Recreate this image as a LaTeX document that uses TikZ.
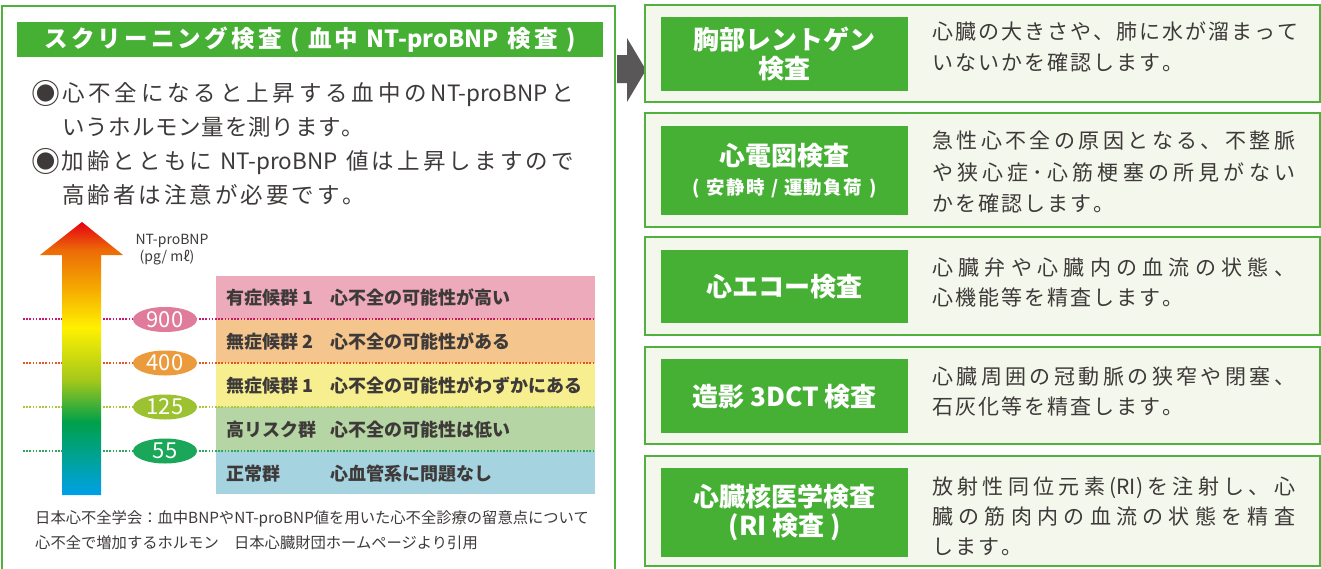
\documentclass[tikz,border=0pt]{standalone}
\usepackage{fontspec}
\setmainfont{Noto Sans CJK JP}
\usetikzlibrary{shapes.geometric}
\definecolor{pgreen}{HTML}{50B23C}
\definecolor{lgreen}{HTML}{46B035}
\definecolor{boxbg}{HTML}{F4F8EC}
\definecolor{txt}{HTML}{3E3A39}
\definecolor{darr}{HTML}{595757}
\definecolor{bpink}{HTML}{EDAABB}
\definecolor{borange}{HTML}{F4C68D}
\definecolor{byellow}{HTML}{F7EF8F}
\definecolor{bgreen}{HTML}{B6D5A4}
\definecolor{bblue}{HTML}{A5D3DF}
\definecolor{lnA}{HTML}{C8166E}
\definecolor{lnB}{HTML}{E8561E}
\definecolor{lnC}{HTML}{A6C83A}
\definecolor{lnD}{HTML}{2EA55A}
\definecolor{elA}{HTML}{E07B9C}
\definecolor{elB}{HTML}{EC9B3C}
\definecolor{elC}{HTML}{9DC231}
\definecolor{elD}{HTML}{1AA75A}
\definecolor{aRed}{HTML}{E60012}
\definecolor{aOR}{HTML}{EC6A07}
\definecolor{aOrange}{HTML}{F6AD00}
\definecolor{aYellow}{HTML}{FFF100}
\definecolor{aYG}{HTML}{A5C81A}
\definecolor{aGreen}{HTML}{00A04A}
\definecolor{aTeal}{HTML}{00A29A}
\definecolor{aBlue}{HTML}{00A0E9}
\pgfdeclareverticalshading{rainbowarrow}{100bp}{color(0bp)=(aBlue); color(25bp)=(aBlue); color(31.4bp)=(aTeal); color(38.4bp)=(aGreen); color(46.1bp)=(aYG); color(55.6bp)=(aYellow); color(62.5bp)=(aOrange); color(69.9bp)=(aOR); color(75bp)=(aRed); color(100bp)=(aRed)}
\newdimen\sgap
\sgap=2pt
\def\sEnd{}
\def\sMark{\sEnd}
\def\sline#1{\sA#1\sEnd}
\def\sA#1{#1\sB}
\def\sB#1{\def\sT{#1}\ifx\sT\sMark\else\hskip\sgap plus 1fil\relax#1\expandafter\sB\fi}
\newcommand\fisheye{\makebox[24pt][c]{\raisebox{-2.5pt}{\fontsize{29}{29}\selectfont ◉}}}
\begin{document}
\begin{tikzpicture}[x=1pt,y=-1pt,
  panel/.style={draw=pgreen, line width=2pt},
  rbox/.style={draw=pgreen, line width=2pt, fill=boxbg},
  hdr/.style={fill=lgreen, text=white, inner sep=0pt, minimum width=586pt, minimum height=35pt, font=\bfseries\fontsize{23.5}{27}\selectfont},
  lbl/.style={fill=lgreen, text=white, font=\bfseries\fontsize{26}{29}\selectfont, align=center, inner sep=0pt, minimum width=247pt, anchor=north west},
  desc/.style={anchor=base west, inner sep=0pt, text=txt, font=\fontsize{21}{25}\selectfont},
  bul/.style={anchor=base west, inner sep=0pt, text=txt, font=\fontsize{22.5}{27}\selectfont},
  btxt/.style={anchor=base west, inner sep=0pt, text=txt, font=\bfseries\fontsize{18}{21}\selectfont},
  val/.style={ellipse, minimum width=64pt, minimum height=25pt, inner sep=0pt, text=white, font=\fontsize{22}{24}\selectfont},
  foot/.style={anchor=base west, inner sep=0pt, text=txt, font=\fontsize{15.3}{18}\selectfont},
  small/.style={inner sep=0pt, text=txt, font=\fontsize{14}{17}\selectfont},
  dots/.style={line width=1.3pt, dash pattern=on 1.6pt off 1.6pt}]
\useasboundingbox (0,0) rectangle (1321,568);
\fill[white] (0,0) rectangle (1321,568);
% left panel
\draw[panel] (2,6) rectangle (615,580);
\node[hdr] (hdr) at (310,39.5) {\sgap=3.2pt\sline{スクリーニング検査{~(~}血中{~NT-proBNP~}検査{~)}}};
\node[bul] (b1) at (34,101.5) {\makebox[540pt][s]{\sline{{\fisheye}心不全になると上昇する血中の{NT-proBNP}と}}};
\node[bul] (b2) at (62,135.5) {\sgap=0.8pt\sline{いうホルモン量を測ります。}};
\node[bul] (b3) at (34,169.5) {\makebox[540pt][s]{\sline{{\fisheye}加齢とともに{~NT-proBNP~}値は上昇しますので}}};
\node[bul] (b4) at (62,203.5) {\sgap=3pt\sline{高齢者は注意が必要です。}};
% bands
\fill[bpink] (216,276) rectangle (595,319);
\fill[borange] (216,319) rectangle (595,363);
\fill[byellow] (216,363) rectangle (595,407);
\fill[bgreen] (216,407) rectangle (595,451);
\fill[bblue] (216,451) rectangle (595,494);
\draw[dots, lnA] (23,319) -- (595,319);
\draw[dots, lnB] (23,363) -- (595,363);
\draw[dots, lnC] (23,407) -- (595,407);
\draw[dots, lnD] (23,451) -- (595,451);
% gradient arrow
\shade[shading=rainbowarrow] (82,222) -- (123,255) -- (101,255) -- (101,495) -- (62,495) -- (62,255) -- (40,255) -- cycle;
\node[small] (ntl) at (172,241) {NT-proBNP};
\node[small] (unit) at (167,258) {(pg/ mℓ)};
\node[val, fill=elA] (v900) at (165,319.5) {900};
\node[val, fill=elB] (v400) at (165,363) {400};
\node[val, fill=elC] (v125) at (165,407) {125};
\node[val, fill=elD] (v55) at (165,451) {55};
\node[btxt] (g1) at (226,304) {有症候群 1};
\node[btxt] (g2) at (226,348) {無症候群 2};
\node[btxt] (g3) at (226,392) {無症候群 1};
\node[btxt] (g4) at (226,436) {高リスク群};
\node[btxt] (g5) at (226,480) {正常群};
\node[btxt] (t1) at (330,304) {心不全の可能性が高い};
\node[btxt] (t2) at (330,348) {心不全の可能性がある};
\node[btxt] (t3) at (330,392) {心不全の可能性がわずかにある};
\node[btxt] (t4) at (330,436) {心不全の可能性は低い};
\node[btxt] (t5) at (330,480) {心血管系に問題なし};
\node[foot] (f1) at (35,523.5) {日本心不全学会：血中BNPやNT-proBNP値を用いた心不全診療の留意点について};
\node[foot] (f2) at (35,548.5) {心不全で増加するホルモン　日本心臓財団ホームページより引用};
% dark arrow
\fill[darr] (617,55) -- (627,55) -- (627,38) -- (646,70) -- (627,102) -- (627,83) -- (617,83) -- cycle;
% right boxes
\draw[rbox] (645,5) rectangle (1320,102);
\draw[rbox] (645,113) rectangle (1320,227);
\draw[rbox] (645,237) rectangle (1320,335);
\draw[rbox] (645,347) rectangle (1320,444);
\draw[rbox] (645,456) rectangle (1320,566);
\node[lbl, minimum height=74pt] (l1) at (661,17) {胸部レントゲン\\検査};
\node[lbl, minimum height=89pt] (l2) at (661,126) {心電図検査\\{\fontsize{18.5}{22}\selectfont\sgap=1.5pt\sline{({~}安静時{~/~}運動負荷{~})}}};
\node[lbl, minimum height=73pt] (l3) at (661,250) {心エコー検査};
\node[lbl, minimum height=74pt] (l4) at (661,359) {造影 3DCT 検査};
\node[lbl, minimum height=89pt] (l5) at (661,468) {心臓核医学検査\\(RI 検査 )};
\node[desc] (d1a) at (932,39) {\makebox[363pt][s]{\sline{心臓の大きさや、肺に水が溜まって}}};
\node[desc] (d1b) at (932,70) {\sline{いないかを確認します。}};
\node[desc] (d2a) at (932,148) {\makebox[363pt][s]{\sline{急性心不全の原因となる、不整脈}}};
\node[desc] (d2b) at (932,180) {\makebox[363pt][s]{\sline{や狭心症･心筋梗塞の所見がない}}};
\node[desc] (d2c) at (932,211) {\sline{かを確認します。}};
\node[desc] (d3a) at (932,275) {\makebox[363pt][s]{\sline{心臓弁や心臓内の血流の状態、}}};
\node[desc] (d3b) at (932,305) {\sline{心機能等を精査します。}};
\node[desc] (d4a) at (932,384) {\makebox[363pt][s]{\sline{心臓周囲の冠動脈の狭窄や閉塞、}}};
\node[desc] (d4b) at (932,414) {\sline{石灰化等を精査します。}};
\node[desc] (d5a) at (932,494) {\makebox[363pt][s]{\sline{放射性同位元素{(RI)}を注射し、心}}};
\node[desc] (d5b) at (932,524) {\makebox[363pt][s]{\sline{臓の筋肉内の血流の状態を精査}}};
\node[desc] (d5c) at (932,554) {\sline{します。}};
\end{tikzpicture}
\end{document}
